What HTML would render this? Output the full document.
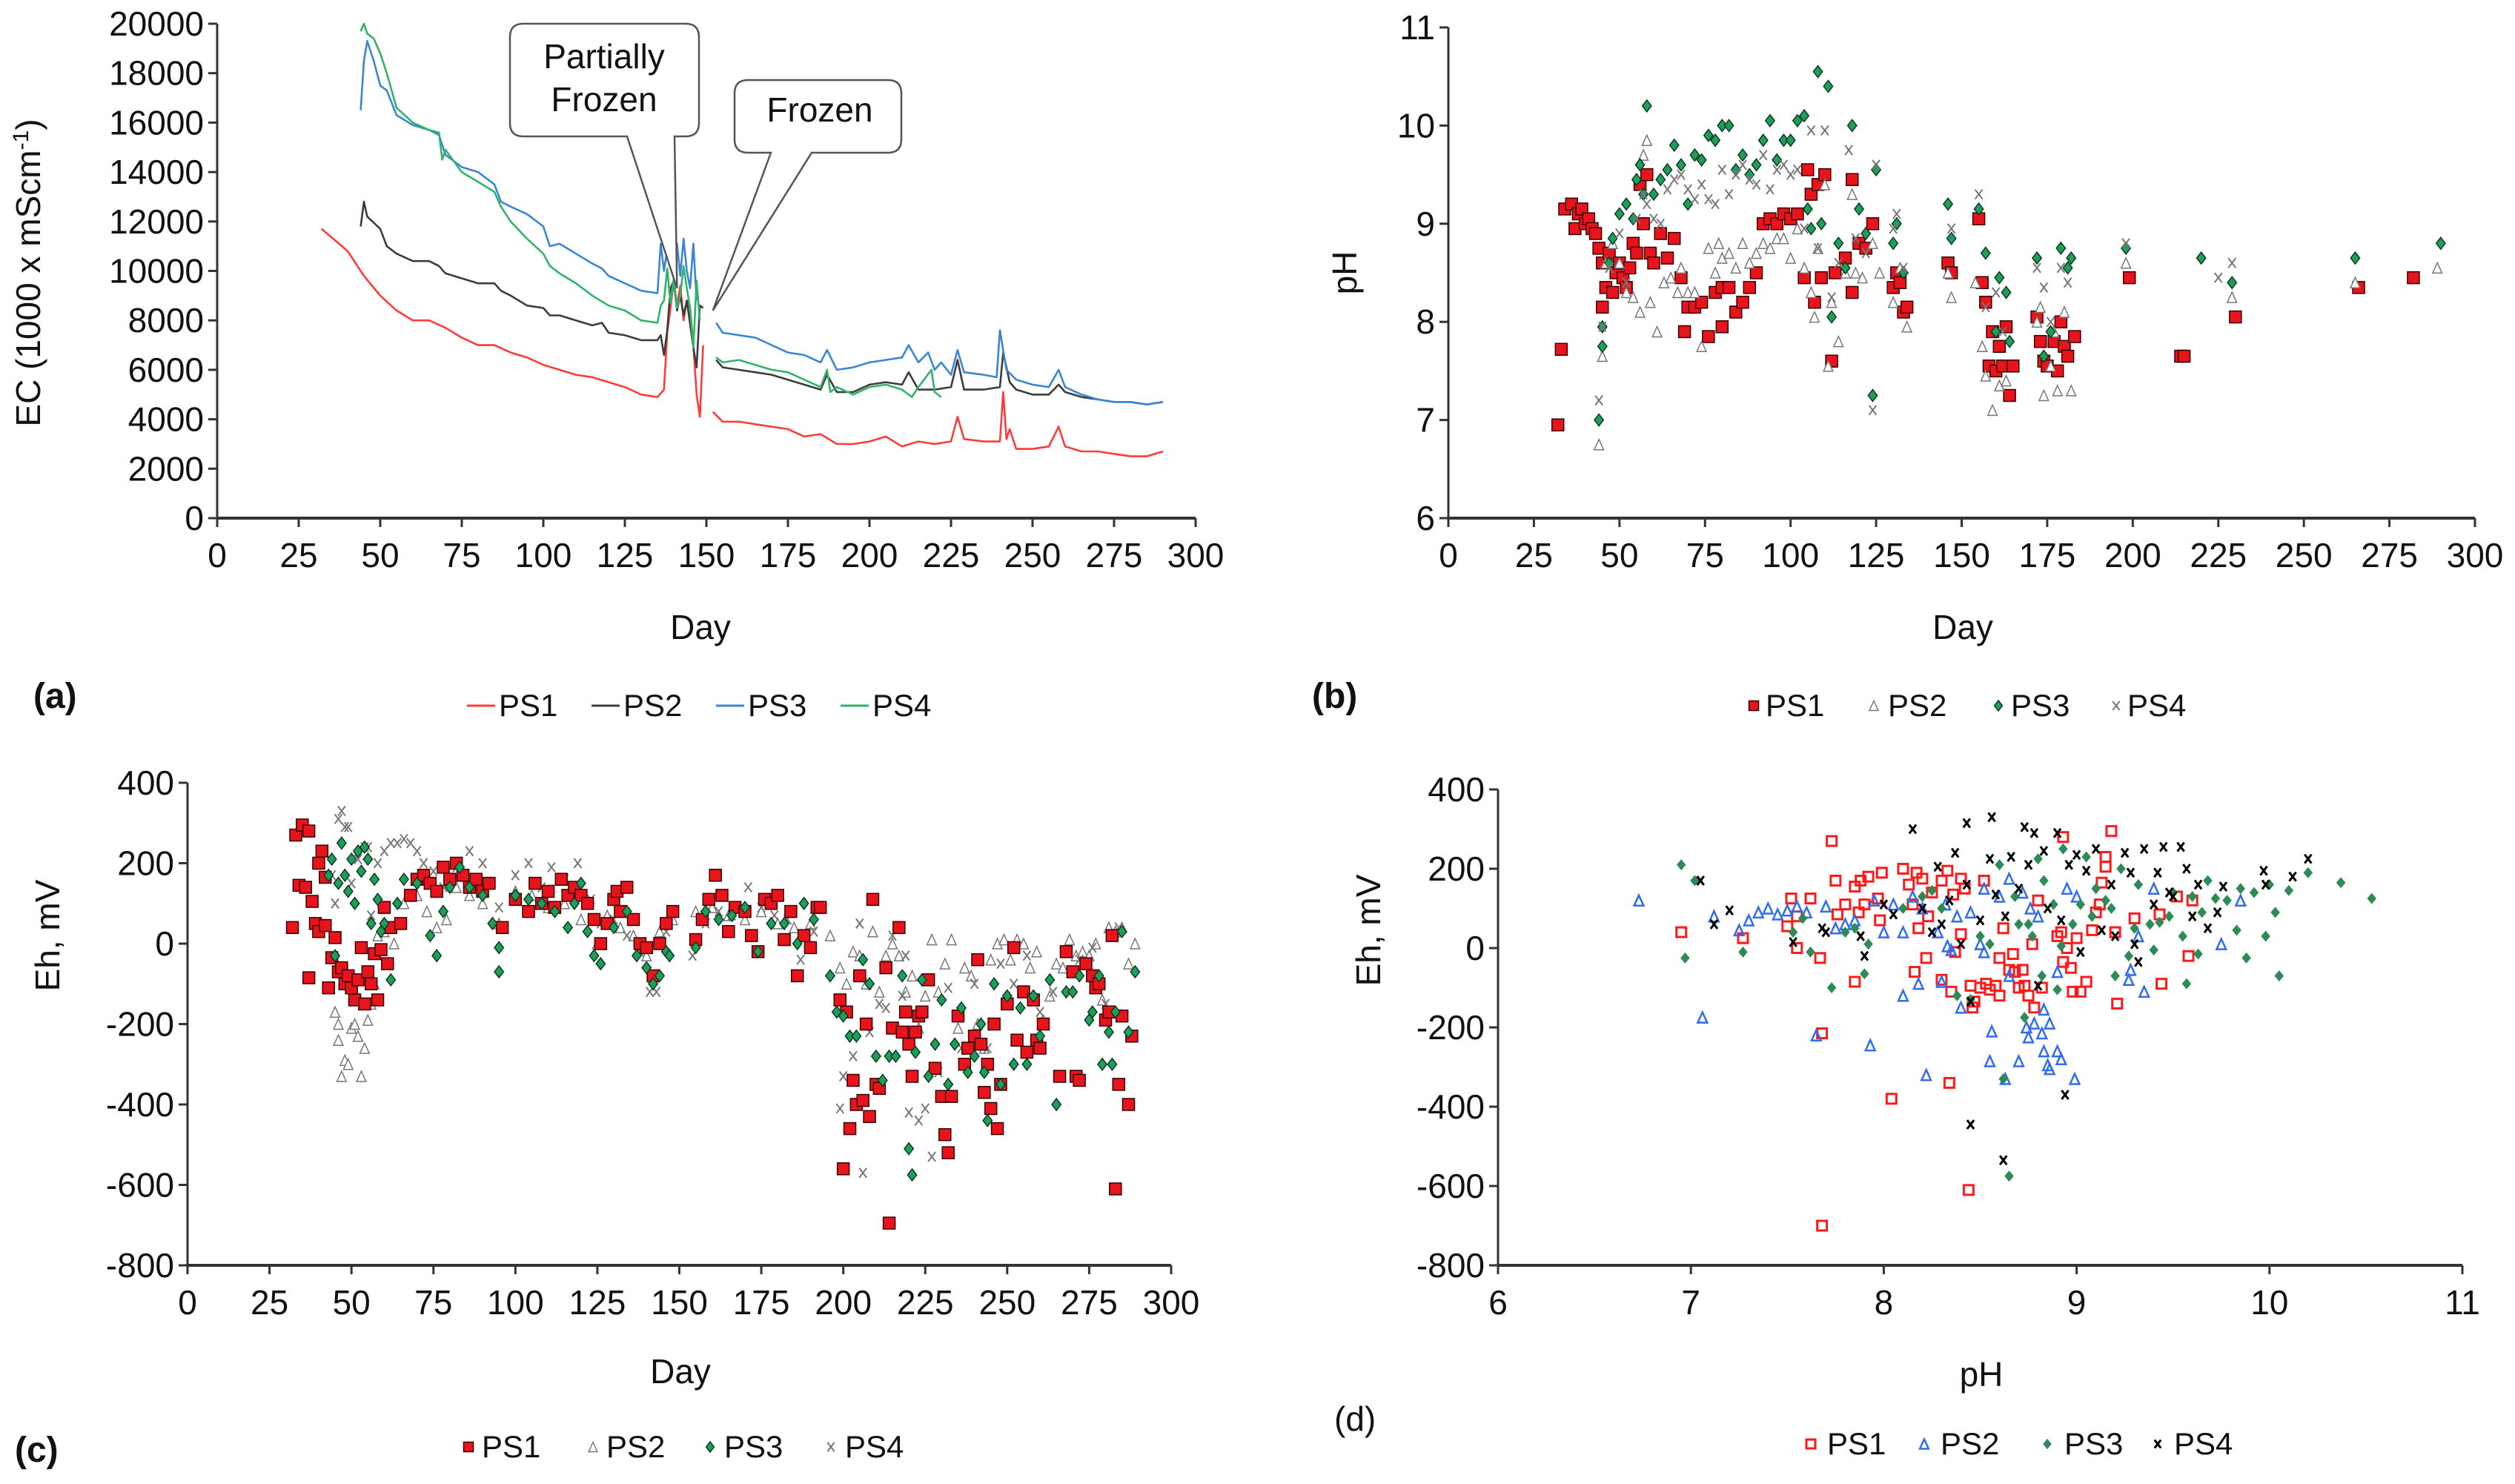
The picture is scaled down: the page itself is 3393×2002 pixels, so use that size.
<!DOCTYPE html>
<html><head><meta charset="utf-8">
<style>
html,body{margin:0;padding:0;background:#fff;}
svg{display:block;font-family:"Liberation Sans",sans-serif;}
</style></head>
<body>
<svg id="fig" width="3393" height="2002" viewBox="0 0 3393 2002" xmlns="http://www.w3.org/2000/svg">
<rect width="3393" height="2002" fill="#fff"/>
</svg>
<script>
// ---------- Panel (a) EC time series ----------
const ecPS1Days = [32,40,45,50,55,60,65,70,75,80,85,90,95,100,105,110,115,120,125,130,135,137,138,139,140,141,142,143,144,145,146,147,148,149,150,152,155,160,165,170,175,180,185,190,195,200,205,210,215,220,225,227,229,235,240,241,242,243,245,250,255,258,260,265,270,275,280,285,290];
const ecPS1 = [11700,10800,9800,9000,8400,8000,8000,7700,7300,7000,7000,6700,6500,6200,6000,5800,5700,5500,5300,5000,4900,5200,7500,8500,9600,8600,9400,8000,8800,8500,7000,5000,4100,7000,null,4300,3900,3900,3800,3700,3600,3300,3400,3000,3000,3100,3300,2900,3100,3000,3100,4100,3200,3100,3100,5100,3200,3600,2800,2800,2900,3700,2900,2700,2700,2600,2500,2500,2700];
const ecPS2Days = [44,45,46,50,52,55,60,65,68,70,75,80,85,87,90,95,100,102,105,110,115,118,120,125,130,135,136,137,138,139,140,141,142,143,144,146,147,148,149,150,153,155,160,165,170,175,180,185,187,190,195,200,205,210,212,215,220,225,227,229,235,240,241,243,245,250,255,258,260,265,270,275,280,285,290];
const ecPS2 = [11800,12800,12200,11700,11000,10700,10400,10400,10200,9900,9700,9500,9500,9200,9000,8600,8500,8200,8200,8000,7800,7900,7500,7400,7200,7200,7400,6600,7600,9300,9600,8400,9000,8200,8800,6900,6100,8600,8500,null,6400,6100,6000,5900,5800,5600,5400,5200,5800,5100,5100,5400,5500,5400,5900,5200,5200,5300,6400,5200,5200,5300,6700,5500,5200,5000,5000,5400,5100,4900,4800,4700,4700,4600,4700];
const ecPS3Days = [44,45,46,48,50,52,55,60,65,68,70,75,80,85,87,90,95,100,102,105,110,115,118,120,125,130,135,136,137,138,139,140,141,142,143,144,145,146,147,150,153,155,160,165,170,175,180,185,187,190,195,200,205,210,212,215,218,220,222,225,227,229,235,239,240,242,245,250,255,258,260,265,270,275,280,285,290];
const ecPS3 = [16500,18500,19300,18500,17500,17300,16300,15900,15700,15500,14700,14200,14000,13500,12800,12600,12300,11800,11000,11100,10700,10300,10100,9800,9500,9200,9100,11100,10000,10900,11200,10500,11100,9800,11300,10000,9300,11100,8800,null,7900,7500,7400,7300,7000,6700,6600,6300,6800,6000,6100,6300,6400,6500,7000,6300,6700,6000,6300,5800,6800,5900,5800,5700,7600,6000,5600,5400,5300,6000,5300,5000,4800,4700,4700,4600,4700];
const ecPS4Days = [44,45,46,48,50,52,55,60,65,68,69,70,75,80,85,87,90,95,100,102,105,110,115,120,125,130,135,136,137,138,139,140,141,142,143,144,145,146,147,148,150,153,155,160,165,170,175,180,185,187,188,190,195,200,205,210,213,215,219,220,222];
const ecPS4 = [19700,20000,19600,19400,18800,18000,16600,16000,15700,15600,14500,14900,14000,13600,13200,12600,12000,11300,10700,10200,9900,9500,9000,8600,8400,8000,7900,8600,8800,10100,8700,9700,8500,9000,10200,9300,8500,6900,9600,8000,null,6500,6300,6400,6200,6000,5900,5600,5300,6000,5100,5300,5000,5300,5400,5200,4900,5300,6000,5100,4900];
const ecXTicks = [0,25,50,75,100,125,150,175,200,225,250,275,300];
const ecYTicks = [0,2000,4000,6000,8000,10000,12000,14000,16000,18000,20000];

// ---------- Panel (b) pH vs day ----------
const bPS1 = [[32,6.95],[33,7.72],[34,9.15],[36,9.2],[37,8.95],[38,9.1],[39,9.15],[40,9.0],[41,9.05],[42,8.95],[43,8.9],[44,8.75],[45,8.6],[45,8.15],[46,8.35],[47,8.7],[48,8.3],[49,8.5],[50,8.6],[51,8.45],[52,8.35],[53,8.55],[54,8.8],[55,8.7],[56,9.4],[57,9.0],[58,9.5],[59,8.7],[60,8.6],[62,8.9],[64,8.65],[66,8.85],[68,8.45],[69,7.9],[70,8.15],[72,8.15],[74,8.2],[76,7.85],[78,8.3],[80,7.95],[80,8.35],[82,8.35],[84,8.1],[86,8.2],[88,8.35],[90,8.5],[92,9.0],[94,9.05],[96,9.0],[98,9.1],[100,9.05],[102,9.1],[104,8.45],[105,9.55],[106,9.3],[107,8.2],[108,9.4],[109,8.45],[110,9.5],[112,7.6],[113,8.5],[116,8.65],[118,9.45],[118,8.3],[120,8.8],[122,8.75],[124,9.0],[130,8.35],[131,8.5],[132,8.4],[133,8.1],[134,8.15],[146,8.6],[147,8.5],[155,9.05],[156,8.4],[157,8.2],[158,7.55],[159,7.9],[160,7.5],[161,7.75],[162,7.55],[163,7.95],[164,7.25],[165,7.55],[172,8.05],[173,7.8],[174,7.6],[175,7.55],[177,7.8],[178,7.5],[179,8.0],[180,7.75],[181,7.65],[183,7.85],[199,8.45],[214,7.65],[215,7.65],[230,8.05],[266,8.35],[282,8.45]];
const bPS2 = [[44,6.75],[45,7.65],[46,8.6],[48,8.8],[50,8.6],[52,8.3],[54,8.25],[56,8.1],[57,9.7],[58,9.85],[59,8.2],[61,7.9],[63,8.4],[65,8.45],[67,8.3],[68,8.55],[70,8.3],[72,8.3],[74,7.75],[76,8.75],[78,8.5],[79,8.8],[80,8.65],[82,8.7],[84,8.55],[86,8.8],[88,8.6],[90,8.7],[92,8.8],[94,8.75],[96,8.85],[98,8.85],[100,8.65],[102,8.95],[104,8.55],[106,8.3],[107,8.05],[108,8.75],[110,9.4],[111,7.55],[112,8.2],[114,7.8],[116,8.5],[118,9.3],[119,8.5],[121,8.45],[124,8.8],[126,8.5],[130,8.2],[132,8.55],[134,7.95],[146,8.5],[147,8.25],[154,8.4],[156,7.75],[157,7.45],[159,7.1],[161,7.35],[163,7.4],[172,8.0],[173,8.15],[174,7.25],[176,7.55],[177,7.9],[178,7.3],[180,8.1],[182,7.3],[198,8.6],[229,8.25],[265,8.4],[289,8.55]];
const bPS3 = [[44,7.0],[45,7.75],[45,7.95],[47,8.6],[48,8.85],[50,9.1],[52,9.2],[54,9.05],[55,9.45],[56,9.6],[57,9.3],[58,10.2],[60,9.3],[62,9.45],[64,9.55],[66,9.8],[68,9.6],[70,9.2],[72,9.7],[74,9.65],[76,9.9],[78,9.85],[80,10.0],[82,10.0],[84,9.55],[86,9.7],[88,9.5],[90,9.6],[92,9.85],[94,10.05],[96,9.65],[98,9.85],[100,9.85],[102,10.05],[104,10.1],[105,9.15],[106,8.95],[108,10.55],[109,9.0],[111,10.4],[112,8.05],[114,8.8],[116,8.55],[118,10.0],[120,9.15],[122,8.9],[124,7.25],[125,9.55],[130,8.8],[131,9.0],[133,8.5],[146,9.2],[147,8.85],[155,9.15],[157,8.7],[160,7.9],[161,8.45],[163,8.3],[164,7.8],[172,8.65],[174,7.65],[176,7.9],[179,8.75],[181,8.55],[182,8.65],[198,8.75],[220,8.65],[229,8.4],[265,8.65],[290,8.8]];
const bPS4 = [[44,7.2],[45,7.95],[47,8.55],[50,8.9],[52,8.4],[55,9.05],[57,9.3],[58,9.2],[60,9.05],[62,9.0],[64,9.35],[66,9.45],[68,9.5],[70,9.35],[72,9.25],[74,9.4],[76,9.25],[78,9.2],[80,9.55],[82,9.3],[84,9.5],[86,9.6],[88,9.45],[90,9.4],[92,9.7],[94,9.35],[96,9.55],[98,9.6],[100,9.5],[102,9.55],[104,8.95],[106,9.95],[108,8.75],[110,9.95],[112,8.25],[114,8.6],[117,9.75],[119,8.85],[122,8.7],[124,7.1],[125,9.6],[130,8.95],[131,9.1],[133,8.55],[147,8.95],[155,9.3],[157,8.15],[160,8.3],[162,7.9],[172,8.55],[174,8.35],[176,8.0],[179,8.55],[181,8.4],[198,8.8],[225,8.45],[229,8.6]];
const bYTicks = [6,7,8,9,10,11];

// ---------- Panel (c) Eh vs day ----------
const cPS1 = [[32,40],[33,270],[34,145],[35,295],[36,140],[37,280],[37,-85],[38,105],[39,50],[40,200],[40,30],[41,230],[42,165],[42,45],[43,-110],[44,-35],[45,15],[46,-70],[47,-60],[48,-100],[49,-80],[50,-110],[51,-140],[52,-90],[53,-10],[54,-150],[55,-70],[56,-100],[57,-25],[58,-140],[59,-15],[60,90],[61,-50],[62,40],[65,50],[68,120],[70,160],[72,170],[74,150],[76,130],[78,190],[80,160],[82,200],[84,170],[86,140],[88,160],[90,130],[92,150],[96,40],[100,110],[104,80],[106,150],[108,100],[110,130],[112,90],[114,160],[116,120],[118,140],[120,120],[122,100],[124,60],[126,0],[128,50],[130,110],[131,130],[132,80],[134,140],[136,60],[138,0],[140,-10],[142,-80],[144,0],[146,50],[148,80],[155,10],[157,60],[159,110],[161,170],[163,120],[165,30],[167,90],[170,80],[172,20],[174,-20],[176,110],[178,100],[180,120],[182,10],[184,80],[186,-80],[188,20],[190,-10],[192,90],[193,90],[199,-140],[200,-560],[201,-170],[202,-460],[203,-340],[204,-400],[205,-80],[206,-390],[207,-200],[208,-430],[209,110],[210,-350],[211,-360],[213,-60],[214,-695],[215,-210],[217,40],[218,-220],[219,-170],[220,-250],[221,-330],[222,-220],[223,-180],[224,-170],[226,-90],[228,-310],[230,-380],[231,-475],[232,-520],[233,-380],[235,-180],[237,-300],[238,-260],[240,-230],[241,-40],[242,-250],[243,-370],[244,-300],[245,-410],[246,-200],[247,-460],[248,-350],[250,-150],[252,-10],[253,-240],[255,-120],[256,-270],[258,-140],[259,-240],[260,-260],[261,-200],[266,-330],[268,-20],[270,-70],[271,-330],[272,-340],[274,-50],[276,-80],[277,-110],[278,-100],[280,-190],[281,-170],[282,20],[283,-610],[284,-350],[285,-180],[287,-400],[288,-230]];
const cPS2 = [[45,-170],[46,-240],[46,-200],[47,-330],[48,-290],[49,-300],[50,-210],[51,-200],[52,-230],[53,-330],[54,-260],[55,-190],[56,-150],[57,-100],[58,20],[60,30],[63,0],[66,100],[70,120],[73,80],[76,40],[79,60],[82,140],[86,120],[90,100],[95,50],[100,130],[105,120],[110,90],[115,100],[120,60],[125,0],[128,70],[132,40],[136,20],[140,-30],[144,30],[148,60],[155,80],[160,90],[165,70],[170,60],[175,80],[180,50],[185,40],[190,50],[196,20],[199,-60],[201,-100],[203,-20],[205,-30],[207,-100],[209,30],[211,-120],[213,-30],[215,0],[217,-30],[219,-120],[221,-80],[223,-210],[225,-130],[227,10],[229,-120],[231,-50],[233,10],[235,-210],[237,-60],[239,-80],[241,-200],[243,-260],[245,-40],[247,0],[249,10],[251,-40],[253,10],[255,0],[257,-60],[259,-20],[261,-190],[263,-130],[265,-50],[267,-60],[269,10],[271,-30],[273,-20],[275,-30],[277,0],[279,-140],[281,40],[283,30],[285,40],[287,-50],[289,0]];
const cPS3 = [[43,170],[44,210],[45,-30],[46,150],[47,250],[48,170],[49,130],[50,210],[51,100],[52,230],[53,180],[54,240],[55,210],[56,50],[57,160],[58,110],[59,30],[60,50],[62,-90],[64,100],[66,160],[70,150],[74,20],[76,-30],[78,80],[80,140],[83,190],[86,140],[90,120],[93,50],[95,-70],[95,-10],[100,120],[104,110],[108,100],[112,80],[116,40],[118,100],[120,150],[122,30],[124,-30],[126,-50],[130,40],[134,80],[137,-30],[140,-60],[142,-100],[144,-80],[146,-20],[147,-30],[155,-10],[158,80],[162,60],[166,70],[170,90],[174,-20],[178,50],[182,50],[186,0],[188,100],[191,60],[196,-80],[198,-170],[200,-180],[202,-230],[204,-230],[206,-40],[208,-100],[210,-280],[212,-340],[214,-280],[216,-280],[218,-80],[220,-510],[221,-575],[222,-270],[224,-90],[226,-330],[228,-250],[230,-140],[232,-350],[234,-250],[236,-160],[238,-320],[240,-280],[242,-200],[243,-320],[244,-440],[246,-100],[248,-350],[250,-130],[252,-300],[254,-160],[256,-300],[258,-130],[260,-230],[263,-90],[265,-400],[268,-120],[270,-120],[272,-80],[275,-190],[276,-170],[278,-80],[279,-300],[281,-220],[282,-300],[283,-170],[285,30],[287,-220],[289,-70]];
const cPS4 = [[44,170],[45,100],[46,310],[47,330],[48,290],[49,290],[50,150],[52,210],[54,240],[55,240],[56,70],[58,200],[60,230],[62,250],[64,250],[66,260],[68,250],[70,230],[72,200],[75,180],[78,140],[82,190],[86,230],[90,200],[95,90],[100,170],[104,200],[108,140],[111,190],[115,160],[119,200],[123,110],[126,50],[130,60],[134,20],[138,-20],[141,-120],[143,-120],[146,30],[154,-30],[158,50],[162,80],[166,70],[171,140],[175,90],[179,70],[183,60],[187,-40],[191,30],[199,-410],[200,-330],[203,-280],[205,50],[206,-570],[208,-220],[211,-150],[213,-160],[215,20],[218,-130],[219,-30],[220,-420],[223,-440],[225,-410],[227,-530],[229,-320],[232,-110],[236,-260],[240,-100],[244,-260],[248,-50],[252,-100],[256,-30],[260,-170],[264,-120],[268,-20],[272,-40],[276,-10],[280,-150],[284,40]];
const ehTicks = [-800,-600,-400,-200,0,200,400];

// ---------- Panel (d) Eh vs pH ----------
const dPS1 = [[6.95,40],[7.27,25],[7.52,125],[7.5,55],[7.55,0],[7.55,80],[7.62,125],[7.67,-25],[7.68,-215],[7.68,-700],[7.73,270],[7.75,170],[7.76,85],[7.8,110],[7.85,-85],[7.85,155],[7.87,90],[7.88,170],[7.9,110],[7.92,180],[7.97,125],[7.98,70],[7.99,190],[8.04,-380],[8.1,200],[8.13,160],[8.15,110],[8.16,-60],[8.17,190],[8.18,50],[8.2,175],[8.22,-25],[8.23,80],[8.25,140],[8.3,-80],[8.3,170],[8.33,195],[8.34,-340],[8.35,-110],[8.36,135],[8.37,-10],[8.4,35],[8.4,175],[8.42,150],[8.44,-610],[8.45,-95],[8.46,-150],[8.47,-135],[8.5,-100],[8.52,170],[8.53,-90],[8.55,-105],[8.58,-95],[8.6,-120],[8.6,-25],[8.62,50],[8.65,-55],[8.67,-15],[8.68,-60],[8.7,-100],[8.72,-55],[8.73,-95],[8.75,-120],[8.77,10],[8.78,-150],[8.8,120],[8.82,-100],[8.9,30],[8.92,40],[8.93,280],[8.93,-35],[8.95,0],[8.97,-50],[8.98,-110],[9.0,25],[9.02,-110],[9.05,-85],[9.08,45],[9.1,90],[9.12,110],[9.13,165],[9.15,205],[9.15,230],[9.18,295],[9.2,40],[9.21,-140],[9.3,75],[9.43,85],[9.44,-90],[9.52,130],[9.58,-20],[9.6,120]];
const dPS2 = [[6.73,120],[7.06,-175],[7.12,80],[7.25,45],[7.3,70],[7.35,90],[7.4,100],[7.45,85],[7.5,95],[7.55,105],[7.6,90],[7.65,-220],[7.7,105],[7.75,50],[7.8,60],[7.85,70],[7.93,-245],[7.95,120],[8.0,40],[8.05,110],[8.1,-120],[8.1,40],[8.15,130],[8.18,-90],[8.2,100],[8.22,-320],[8.28,40],[8.3,-85],[8.32,110],[8.33,5],[8.35,-5],[8.38,80],[8.4,-150],[8.45,90],[8.5,10],[8.52,-10],[8.52,150],[8.55,-285],[8.56,-210],[8.6,130],[8.63,-330],[8.65,-70],[8.65,175],[8.7,-285],[8.72,140],[8.74,-200],[8.75,-225],[8.76,100],[8.78,-190],[8.8,80],[8.82,-215],[8.83,-260],[8.83,-155],[8.85,-295],[8.86,-305],[8.86,-190],[8.9,-260],[8.9,-60],[8.92,-280],[8.95,150],[8.99,-330],[9.0,130],[9.27,-80],[9.28,-55],[9.32,30],[9.35,-110],[9.4,150],[9.75,10],[9.85,120]];
const dPS3 = [[6.95,210],[6.97,-25],[7.02,170],[7.27,-10],[7.53,40],[7.58,75],[7.62,-10],[7.73,-100],[7.8,40],[7.85,50],[7.9,-65],[7.92,10],[8.1,100],[8.2,130],[8.25,145],[8.3,100],[8.38,-120],[8.45,-130],[8.5,30],[8.55,10],[8.6,210],[8.62,-330],[8.65,-575],[8.68,130],[8.7,60],[8.73,-175],[8.75,60],[8.77,30],[8.8,225],[8.82,-70],[8.83,170],[8.88,110],[8.9,-105],[8.92,5],[8.93,250],[8.98,60],[9.02,110],[9.05,230],[9.08,80],[9.1,150],[9.15,120],[9.18,100],[9.2,-70],[9.23,200],[9.27,-20],[9.3,50],[9.32,160],[9.38,60],[9.4,-5],[9.43,65],[9.48,80],[9.5,140],[9.55,30],[9.57,-90],[9.6,130],[9.63,-15],[9.65,90],[9.68,170],[9.72,125],[9.78,120],[9.83,45],[9.85,150],[9.88,-25],[9.92,140],[9.98,30],[10.0,160],[10.03,90],[10.05,-70],[10.1,145],[10.2,190],[10.37,165],[10.53,125]];
const dPS4 = [[7.05,170],[7.12,60],[7.2,95],[7.53,15],[7.68,50],[7.7,40],[7.88,30],[7.9,-20],[8.0,110],[8.05,85],[8.15,300],[8.2,100],[8.25,40],[8.28,205],[8.3,60],[8.34,120],[8.37,240],[8.4,10],[8.43,160],[8.43,315],[8.45,-135],[8.45,-445],[8.5,70],[8.55,225],[8.56,330],[8.58,135],[8.62,-535],[8.63,80],[8.66,230],[8.7,150],[8.73,305],[8.75,210],[8.78,290],[8.8,-95],[8.83,245],[8.85,100],[8.9,290],[8.92,70],[8.94,-370],[8.96,210],[9.0,235],[9.02,-10],[9.05,195],[9.1,250],[9.13,45],[9.18,160],[9.2,30],[9.25,240],[9.28,190],[9.3,10],[9.32,-35],[9.35,250],[9.4,110],[9.42,190],[9.45,255],[9.48,140],[9.5,130],[9.54,255],[9.57,200],[9.6,80],[9.63,160],[9.68,50],[9.73,90],[9.76,155],[9.97,195],[9.98,160],[10.12,180],[10.2,225]];
const dXTicks = [6,7,8,9,10,11];

const NS = "http://www.w3.org/2000/svg";
const svg = document.getElementById('fig');
function mk(tag, attrs, parent, text){
  const e = document.createElementNS(NS, tag);
  for (const k in attrs) e.setAttribute(k, attrs[k]);
  if (text !== undefined) e.textContent = text;
  (parent || svg).appendChild(e);
  return e;
}
function lin(d0,d1,r0,r1){ return v => r0 + (v-d0)/(d1-d0)*(r1-r0); }

function axes(g, xs, ys, xTicks, yTicks, x0, x1, y0, y1, fs){
  const ax = mk('g', {}, g);
  
  
  mk('line', {x1:x0, y1:y1, x2:x0, y2:y0, stroke:'#333', 'stroke-width':3}, ax);
  mk('line', {x1:x0, y1:y0, x2:x1, y2:y0, stroke:'#333', 'stroke-width':4}, ax);
  xTicks.forEach(t => {
    const x = xs(t);
    mk('line', {x1:x, y1:y0, x2:x, y2:y0+12, stroke:'#333', 'stroke-width':3}, ax);
    const tx = mk('text', {x:x, y:y0+66, 'font-size':fs, 'text-anchor':'middle', fill:'#111'}, ax, String(t));
    
    
  });
  yTicks.forEach(t => {
    const y = ys(t);
    mk('line', {x1:x0-12, y1:y, x2:x0, y2:y, stroke:'#333', 'stroke-width':3}, ax);
    const tx = mk('text', {x:x0-18, y:y+16, 'font-size':fs, 'text-anchor':'end', fill:'#111'}, ax, String(t));
    
    
  });
}

function marker(g, type, x, y, s){
  let e;
  if (type==='sq') e = mk('rect',{x:x-s/2,y:y-s/2,width:s,height:s,fill:'#e8141b',stroke:'#3a0000','stroke-width':1.5},g);
  else if (type==='sqo') e = mk('rect',{x:x-s/2,y:y-s/2,width:s,height:s,fill:'none',stroke:'#ff1a1a','stroke-width':3},g);
  else if (type==='tri') e = mk('path',{d:`M${x} ${y-s/2}L${x+s/2.2} ${y+s/2}L${x-s/2.2} ${y+s/2}Z`,fill:'#fff',stroke:'#777','stroke-width':1.5},g);
  else if (type==='trib') e = mk('path',{d:`M${x} ${y-s/2}L${x+s/2.2} ${y+s/2}L${x-s/2.2} ${y+s/2}Z`,fill:'none',stroke:'#2f6cf0','stroke-width':2.5},g);
  else if (type==='dia') e = mk('path',{d:`M${x} ${y-s/2}L${x+s/2.6} ${y}L${x} ${y+s/2}L${x-s/2.6} ${y}Z`,fill:'#1e9e5a',stroke:'#0b3a20','stroke-width':1.5},g);
  else if (type==='diag') e = mk('path',{d:`M${x} ${y-s/2}L${x+s/2.4} ${y}L${x} ${y+s/2}L${x-s/2.4} ${y}Z`,fill:'#2e8b57'},g);
  else if (type==='x') e = mk('path',{d:`M${x-s/2.6} ${y-s/2}L${x+s/2.6} ${y+s/2}M${x+s/2.6} ${y-s/2}L${x-s/2.6} ${y+s/2}`,stroke:'#777','stroke-width':2,fill:'none'},g);
  else if (type==='xb') e = mk('path',{d:`M${x-s/2.6} ${y-s/2}L${x+s/2.6} ${y+s/2}M${x+s/2.6} ${y-s/2}L${x-s/2.6} ${y+s/2}`,stroke:'#000','stroke-width':3,fill:'none'},g);
  return e;
}

function scatter(name, pts, type, xs, ys, s){
  const g = mk('g', {});
  
  
  pts.forEach(p => {
    const m = marker(g, type, xs(p[0]), ys(p[1]), s);
    
    
  });
}

function legend(name, items, y, fs){
  const g = mk('g', {});
  
  
  items.forEach(it => {
    const eg = mk('g', {}, g);
    
    
    if (it.line) mk('line', {x1:it.mx, y1:y-14, x2:it.mx+38, y2:y-14, stroke:it.line, 'stroke-width':3}, eg);
    else marker(eg, it.type, it.mx, y-14, it.s);
    mk('text', {x:it.tx, y:y, 'font-size':fs, fill:'#111'}, eg, it.label);
  });
}

function label(name, txt, x, y, fs, opts){
  const t = mk('text', Object.assign({x:x, y:y, 'font-size':fs, fill:'#111', 'text-anchor':'middle'}, opts||{}), svg, txt);
  
  
  return t;
}

// ===== Panel (a) =====
{
  const x0=293, x1=1613, y0=699, y1=32;
  const xs = lin(0,300,x0,x1), ys = lin(0,20000,y0,y1);
  const g = mk('g', {});  
  axes(g, xs, ys, ecXTicks, ecYTicks, x0, x1, y0, y1, 46);
  const series = [['ps1-line',ecPS1Days,ecPS1,'#ff3b3b'],['ps2-line',ecPS2Days,ecPS2,'#3c3c3c'],['ps3-line',ecPS3Days,ecPS3,'#3a86d4'],['ps4-line',ecPS4Days,ecPS4,'#30b36a']];
  series.forEach(([nm,days,vals,col]) => {
    let d=''; let pen=false;
    days.forEach((dd,i) => {
      const v = vals[i];
      if (v===null){ pen=false; return; }
      d += (pen?'L':'M') + xs(dd).toFixed(1) + ' ' + ys(v).toFixed(1);
      pen=true;
    });
    const p = mk('path', {d:d, fill:'none', stroke:col, 'stroke-width':2.6, 'stroke-linejoin':'round'});
    
    
  });
  const c1 = mk('g', {});  
  mk('path', {d:`M716 32 H925 Q943 32 943 50 V166 Q943 184 925 184 H910 L${xs(141)} ${ys(9300)} L846 184 H706 Q688 184 688 166 V50 Q688 32 706 32 Z`, fill:'#fff', stroke:'#555', 'stroke-width':2.5}, c1);
  mk('text', {x:815, y:92, 'font-size':46, 'text-anchor':'middle', fill:'#111'}, c1, 'Partially');
  mk('text', {x:815, y:150, 'font-size':46, 'text-anchor':'middle', fill:'#111'}, c1, 'Frozen');
  const c2 = mk('g', {});  
  mk('path', {d:`M1009 108 H1198 Q1216 108 1216 126 V188 Q1216 206 1198 206 H1095 L${xs(152)} ${ys(8400)} L1040 206 H1009 Q991 206 991 188 V126 Q991 108 1009 108 Z`, fill:'#fff', stroke:'#555', 'stroke-width':2.5}, c2);
  mk('text', {x:1106, y:164, 'font-size':46, 'text-anchor':'middle', fill:'#111'}, c2, 'Frozen');
  label('x-axis-title-a','Day',945,862,46);
  const yt = label('y-axis-title-a','EC (1000 x mScm',0,0,46,{transform:'translate(54,368) rotate(-90)'});
  mk('tspan',{dy:-16,'font-size':30},yt,'-1'); mk('tspan',{dy:16},yt,')');
  label('panel-label-a','(a)',45,955,48,{'font-weight':'bold','text-anchor':'start'});
  legend('legend-a', [
    {line:'#ff3b3b',mx:630,tx:673,label:'PS1'},
    {line:'#3c3c3c',mx:798,tx:841,label:'PS2'},
    {line:'#3a86d4',mx:966,tx:1009,label:'PS3'},
    {line:'#30b36a',mx:1134,tx:1177,label:'PS4'}], 966, 42);
}

// ===== Panel (b) =====
{
  const x0=1954, x1=3339, y0=699, y1=37;
  const xs = lin(0,300,x0,x1), ys = lin(6,11,y0,y1);
  const g = mk('g', {});  
  axes(g, xs, ys, ecXTicks, bYTicks, x0, x1, y0, y1, 46);
  scatter('ps1-points-b', bPS1, 'sq', xs, ys, 16);
  scatter('ps2-points-b', bPS2, 'tri', xs, ys, 14);
  scatter('ps3-points-b', bPS3, 'dia', xs, ys, 16);
  scatter('ps4-points-b', bPS4, 'x', xs, ys, 13);
  label('x-axis-title-b','Day',2648,862,46);
  label('y-axis-title-b','pH',0,0,46,{transform:'translate(1830,368) rotate(-90)'});
  label('panel-label-b','(b)',1770,955,48,{'font-weight':'bold','text-anchor':'start'});
  legend('legend-b', [
    {type:'sq',s:13,mx:2366,tx:2382,label:'PS1'},
    {type:'tri',s:13,mx:2528,tx:2547,label:'PS2'},
    {type:'dia',s:14,mx:2696,tx:2713,label:'PS3'},
    {type:'x',s:12,mx:2855,tx:2870,label:'PS4'}], 966, 42);
}

// ===== Panel (c) =====
{
  const x0=253, x1=1580, y0=1707, y1=1056;
  const xs = lin(0,300,x0,x1), ys = lin(-800,400,y0,y1);
  const g = mk('g', {});  
  axes(g, xs, ys, ecXTicks, ehTicks, x0, x1, y0, y1, 46);
  scatter('ps2-points-c', cPS2, 'tri', xs, ys, 14);
  scatter('ps4-points-c', cPS4, 'x', xs, ys, 13);
  scatter('ps1-points-c', cPS1, 'sq', xs, ys, 16);
  scatter('ps3-points-c', cPS3, 'dia', xs, ys, 16);
  label('x-axis-title-c','Day',918,1866,46);
  label('y-axis-title-c','Eh, mV',0,0,46,{transform:'translate(80,1262) rotate(-90)'});
  label('panel-label-c','(c)',20,1972,48,{'font-weight':'bold','text-anchor':'start'});
  legend('legend-c', [
    {type:'sq',s:13,mx:632,tx:650,label:'PS1'},
    {type:'tri',s:13,mx:800,tx:818,label:'PS2'},
    {type:'dia',s:14,mx:958,tx:977,label:'PS3'},
    {type:'x',s:12,mx:1121,tx:1140,label:'PS4'}], 1966, 42);
}

// ===== Panel (d) =====
{
  const x0=2021, x1=3322, y0=1707, y1=1065;
  const xs = lin(6,11,x0,x1), ys = lin(-800,400,y0,y1);
  const g = mk('g', {});  
  axes(g, xs, ys, dXTicks, ehTicks, x0, x1, y0, y1, 46);
  scatter('ps1-points-d', dPS1, 'sqo', xs, ys, 13);
  scatter('ps2-points-d', dPS2, 'trib', xs, ys, 14);
  scatter('ps3-points-d', dPS3, 'diag', xs, ys, 15);
  scatter('ps4-points-d', dPS4, 'xb', xs, ys, 12);
  label('x-axis-title-d','pH',2673,1870,46);
  label('y-axis-title-d','Eh, mV',0,0,46,{transform:'translate(1862,1255) rotate(-90)'});
  label('panel-label-d','(d)',1800,1930,46,{'text-anchor':'start'});
  legend('legend-d', [
    {type:'sqo',s:12,mx:2443,tx:2465,label:'PS1'},
    {type:'trib',s:13,mx:2596,tx:2618,label:'PS2'},
    {type:'diag',s:14,mx:2762,tx:2785,label:'PS3'},
    {type:'xb',s:11,mx:2911,tx:2933,label:'PS4'}], 1962, 42);
}
</script>
</body></html>
